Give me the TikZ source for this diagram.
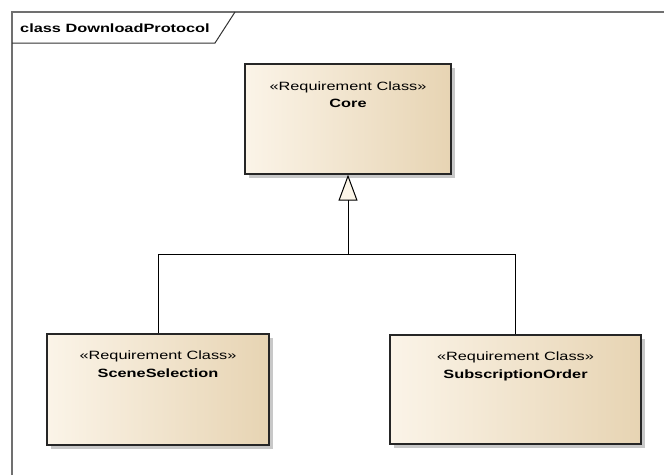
\documentclass[tikz,border=0pt]{standalone}
\usepackage{fontspec}
\newfontfamily\eafont[FakeStretch=1.36]{Liberation Sans}
\usetikzlibrary{arrows.meta,shadows,calc}
\definecolor{eaL}{HTML}{FBF4E8}
\definecolor{eaM}{HTML}{F8EEDD}
\definecolor{eaR}{HTML}{E7D4B3}
\definecolor{triF}{HTML}{FBF5E8}
\definecolor{frameC}{HTML}{707070}
\definecolor{shadowC}{HTML}{C8C8C8}
\begin{document}
\begin{tikzpicture}[x=1pt,y=-1pt,
  reqbox/.style={draw=black!85, line width=1.3pt, rectangle, inner sep=0pt,
    left color=eaL, middle color=eaM, right color=eaR,
    general shadow={fill=shadowC, shadow xshift=4pt, shadow yshift=-4pt}},
  stereo/.style={anchor=base, inner sep=0pt, font=\eafont\fontsize{12}{14}\selectfont},
  cname/.style={anchor=base, inner sep=0pt, font=\eafont\bfseries\fontsize{12}{14}\selectfont},
  conn/.style={draw=black, line width=1pt},
  gen/.style={conn, -{Triangle[width=19pt,length=26pt,fill=triF,line width=1pt]}}
]
\useasboundingbox (0,0) rectangle (664,475);
\fill[white] (0,0) rectangle (664,475);
% frame
\draw[frameC, line width=1.2pt] (12,475) -- (12,12) -- (664,12);
\draw[black!80, line width=1pt] (12,43) -- (215,43) -- (235,12);
\node[cname, anchor=base west] (title) at (20,32) {class DownloadProtocol};
% boxes
\node[reqbox, minimum width=206pt, minimum height=110pt] (core) at (348,119) {};
\node[reqbox, minimum width=222pt, minimum height=111pt] (ss) at (158,389.5) {};
\node[reqbox, minimum width=251pt, minimum height=109pt] (so) at (515.5,389.5) {};
% texts
\node[stereo] (coreS) at ($(core.north)+(0,27)$) {«Requirement Class»};
\node[cname] (coreN) at ($(core.north)+(0,44)$) {Core};
\node[stereo] (ssS) at ($(ss.north)+(0,26)$) {«Requirement Class»};
\node[cname] (ssN) at ($(ss.north)+(0,44)$) {SceneSelection};
\node[stereo] (soS) at ($(so.north)+(0,26)$) {«Requirement Class»};
\node[cname] (soN) at ($(so.north)+(0,44)$) {SubscriptionOrder};
% connectors
\coordinate (j) at (core.south |- 0,254);
\draw[conn] (ss.north) |- (j);
\draw[conn] (so.north) |- (j);
\draw[gen] (j) -- (core.south);
\end{tikzpicture}
\end{document}
